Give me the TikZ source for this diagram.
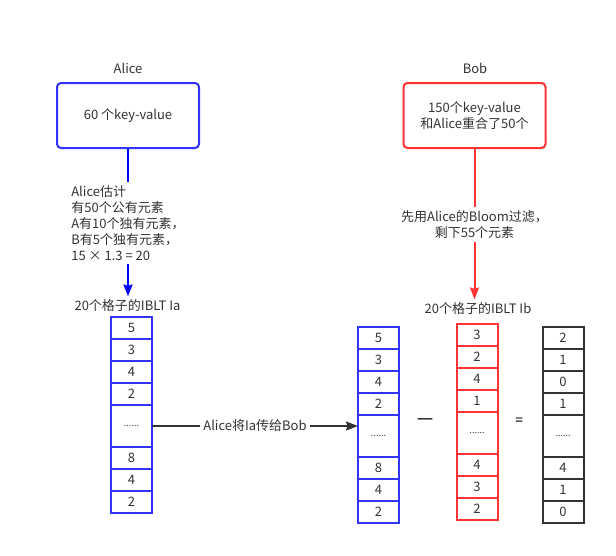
\documentclass[tikz,border=0pt]{standalone}
\usepackage{fontspec}
\setmainfont{Noto Sans CJK SC}
\usetikzlibrary{arrows.meta}
\definecolor{alicecol}{HTML}{3333FF}
\definecolor{bobcol}{HTML}{FF3333}
\definecolor{inkcol}{HTML}{333333}
\definecolor{wireblue}{HTML}{0000FF}
\tikzset{
    line cap=round,line join=round,
    every node/.style={text=inkcol, font=\fontsize{13}{16}\selectfont},
    party box/.style={draw, rounded corners=4pt, line width=2pt, minimum width=142pt, minimum height=65pt, align=center},
    cell/.style={minimum width=41pt, minimum height=22pt, inner sep=0pt, outer sep=0pt, line width=2pt},
    flow arrow/.style={line width=2pt, -{Stealth[length=12pt,width=9pt,inset=1.5pt]}},
    sign/.style={font=\fontsize{#1}{16}\selectfont\addfontfeatures{FakeBold=2}},
    iblt column/.pic={%
        \tikzset{/iblt/.cd,#1}
        \foreach \v [count=\i] in \ibtop
            \node[cell, pic actions] (-\i) at (0,{11+22*(\i-1)}) {\v};
        \node[cell, pic actions, minimum height=42pt, font=\fontsize{9}{10}\selectfont] (-dots) at (0,109) {......};
        \foreach \v [count=\i] in \ibbottom
            \node[cell, pic actions] (-b\i) at (0,{141+22*(\i-1)}) {\v};
    },
    /iblt/.cd,
    top/.store in=\ibtop,
    bottom/.store in=\ibbottom,
    top={5,3,4,2}, bottom={8,4,2},
}
\begin{document}
\begin{tikzpicture}[x=1pt,y=-1pt]
    \useasboundingbox[fill=white] (0,0) rectangle (616,555);

    \node (alicename) at (128,68) {Alice};
    \node[party box, draw=alicecol] (alice) at (128,115.5) {60 个key-value};
    \node (bobname) at (475,68) {Bob};
    \node[party box, draw=bobcol] (bob) at (474.5,115.5) {150个key-value\\和Alice重合了50个};

    \node (ialabel) at (127.5,306) {20个格子的IBLT Ia};
    \node (iblabel) at (478,309) {20个格子的IBLT Ib};

    \draw[flow arrow, draw=wireblue] (alice.south) -- node[fill=white, align=left]
        {Alice估计\\有50个公有元素\\A有10个独有元素，\\B有5个独有元素，\\15 × 1.3 = 20} (alice.south |- ialabel.north);
    \draw[flow arrow, draw=bobcol] (bob.south) -- node[fill=white, align=center]
        {先用Alice的Bloom过滤，\\剩下55个元素} (bob.south |- iblabel.north);

    \pic[draw=alicecol] (ia) at (131.5,317) {iblt column};
    \pic[draw=alicecol] (iacopy) at (378.5,327) {iblt column};
    \pic[draw=bobcol] (ib) at (477,324) {iblt column={top={3,2,4,1},bottom={4,3,2}}};
    \pic[draw=inkcol] (diff) at (563,327) {iblt column={top={2,1,0,1},bottom={4,1,0}}};

    \draw[flow arrow, draw=inkcol] (ia-dots.east) -- node[fill=white] {Alice将Ia传给Bob} (ia-dots.east -| iacopy-dots.west);

    \node[sign=18] (minus) at (425,421) {—};
    \node[sign=13] (equals) at (519,421) {=};
\end{tikzpicture}
\end{document}
